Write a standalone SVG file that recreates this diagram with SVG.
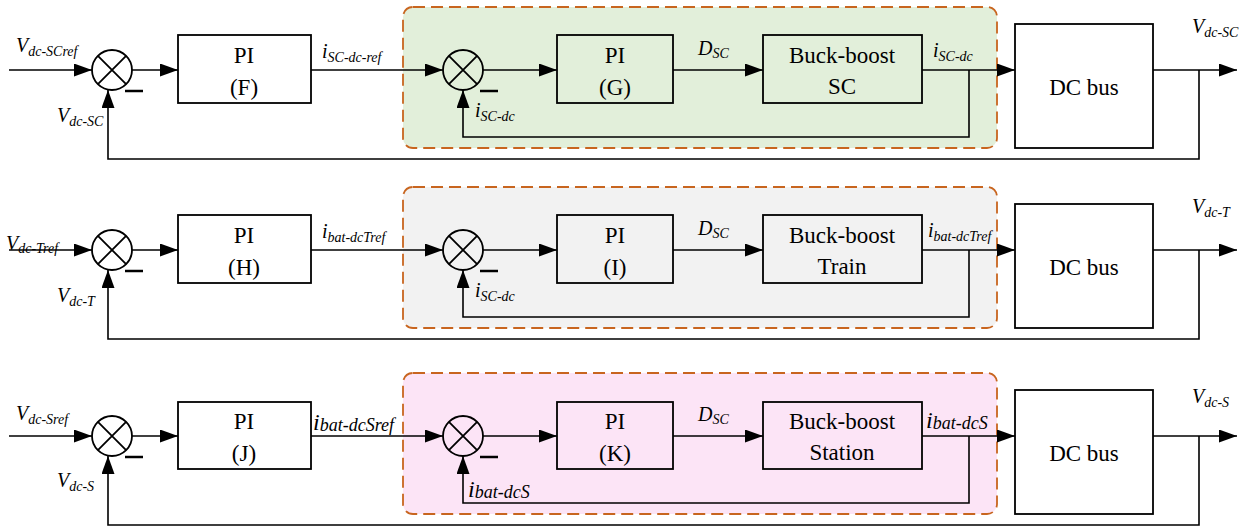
<svg xmlns="http://www.w3.org/2000/svg" width="1253" height="527" viewBox="0 0 1253 527" font-family="Liberation Serif, serif">
<style>
.box{fill:none;stroke:#000;stroke-width:1.8}
.wbox{fill:#fff;stroke:#000;stroke-width:1.8}
.sum{fill:none;stroke:#000;stroke-width:1.8}
.grp{stroke:#c8651f;stroke-width:1.8;stroke-dasharray:12 6}
.c{fill:none;stroke:#000;stroke-width:1.6}
.fb{fill:none;stroke:#000;stroke-width:1.6}
.minus{stroke:#000;stroke-width:2.5}
.t{font-size:23px;text-anchor:middle;fill:#000}
.l{font-style:italic;font-size:20px;fill:#000}
.s{font-size:14px}
.lb{font-size:24px}
.sb{font-size:18px}
</style>
<defs>
<marker id="ah" markerUnits="userSpaceOnUse" markerWidth="19" markerHeight="14" refX="18" refY="6.5" orient="auto">
<path d="M0,0 L18,6.5 L0,13 z" fill="#000"/>
</marker>
</defs>

<g id="group1"><rect x="403" y="7" width="594" height="141" rx="10" fill="#e2efda" class="grp"/></g>
<g id="group2"><rect x="403" y="187" width="594" height="141" rx="10" fill="#f2f2f2" class="grp"/></g>
<g id="group3"><rect x="403" y="373" width="594" height="141" rx="10" fill="#fce4f6" class="grp"/></g>

<g id="connectors">
<line class="c" x1="9" y1="70" x2="92" y2="70" marker-end="url(#ah)"/>
<line class="c" x1="132" y1="70" x2="178" y2="70" marker-end="url(#ah)"/>
<line class="c" x1="311" y1="70" x2="443" y2="70" marker-end="url(#ah)"/>
<line class="c" x1="483" y1="70" x2="557" y2="70" marker-end="url(#ah)"/>
<line class="c" x1="673" y1="70" x2="763" y2="70" marker-end="url(#ah)"/>
<line class="c" x1="922" y1="70" x2="1015" y2="70" marker-end="url(#ah)"/>
<line class="c" x1="1153" y1="70" x2="1237" y2="70" marker-end="url(#ah)"/>
<polyline class="fb" points="969,70 969,137 463,137 463,90" marker-end="url(#ah)"/>
<polyline class="fb" points="1199,70 1199,159 108,159 108,90" marker-end="url(#ah)"/>
<line class="c" x1="9" y1="250" x2="92" y2="250" marker-end="url(#ah)"/>
<line class="c" x1="132" y1="250" x2="178" y2="250" marker-end="url(#ah)"/>
<line class="c" x1="311" y1="250" x2="443" y2="250" marker-end="url(#ah)"/>
<line class="c" x1="483" y1="250" x2="557" y2="250" marker-end="url(#ah)"/>
<line class="c" x1="673" y1="250" x2="763" y2="250" marker-end="url(#ah)"/>
<line class="c" x1="922" y1="250" x2="1015" y2="250" marker-end="url(#ah)"/>
<line class="c" x1="1153" y1="250" x2="1237" y2="250" marker-end="url(#ah)"/>
<polyline class="fb" points="969,250 969,317 463,317 463,270" marker-end="url(#ah)"/>
<polyline class="fb" points="1199,250 1199,339 108,339 108,270" marker-end="url(#ah)"/>
<line class="c" x1="9" y1="436" x2="92" y2="436" marker-end="url(#ah)"/>
<line class="c" x1="132" y1="436" x2="178" y2="436" marker-end="url(#ah)"/>
<line class="c" x1="311" y1="436" x2="443" y2="436" marker-end="url(#ah)"/>
<line class="c" x1="483" y1="436" x2="557" y2="436" marker-end="url(#ah)"/>
<line class="c" x1="673" y1="436" x2="763" y2="436" marker-end="url(#ah)"/>
<line class="c" x1="922" y1="436" x2="1015" y2="436" marker-end="url(#ah)"/>
<line class="c" x1="1153" y1="436" x2="1237" y2="436" marker-end="url(#ah)"/>
<polyline class="fb" points="969,436 969,503 463,503 463,456" marker-end="url(#ah)"/>
<polyline class="fb" points="1199,436 1199,525 108,525 108,456" marker-end="url(#ah)"/>
</g>

<g id="sum1a"><circle class="sum" cx="112" cy="70" r="20" fill="#fff"/><path class="sum" d="M97.9,55.9 L126.1,84.1 M126.1,55.9 L97.9,84.1"/><line class="minus" x1="125" y1="91" x2="143" y2="91"/></g>
<g id="piF"><rect class="wbox" x="178" y="35" width="133" height="68"/><text class="t" x="244" y="63">PI</text><text class="t" x="244" y="95">(F)</text></g>
<g id="sum1b"><circle class="sum" cx="463" cy="70" r="20"/><path class="sum" d="M448.9,55.9 L477.1,84.1 M477.1,55.9 L448.9,84.1"/><line class="minus" x1="480" y1="91" x2="498" y2="91"/></g>
<g id="piG"><rect class="box" x="557" y="35" width="116" height="68"/><text class="t" x="615" y="63">PI</text><text class="t" x="615" y="95">(G)</text></g>
<g id="bbSC"><rect class="box" x="763" y="35" width="159" height="68"/><text class="t" x="842" y="63">Buck-boost</text><text class="t" x="842" y="94">SC</text></g>
<g id="dcbus1"><rect class="wbox" x="1015" y="24" width="138" height="124"/><text class="t" x="1084" y="95">DC bus</text></g>

<g id="sum2a"><circle class="sum" cx="112" cy="250" r="20" fill="#fff"/><path class="sum" d="M97.9,235.9 L126.1,264.1 M126.1,235.9 L97.9,264.1"/><line class="minus" x1="125" y1="271" x2="143" y2="271"/></g>
<g id="piH"><rect class="wbox" x="178" y="215" width="133" height="68"/><text class="t" x="244" y="243">PI</text><text class="t" x="244" y="275">(H)</text></g>
<g id="sum2b"><circle class="sum" cx="463" cy="250" r="20"/><path class="sum" d="M448.9,235.9 L477.1,264.1 M477.1,235.9 L448.9,264.1"/><line class="minus" x1="480" y1="271" x2="498" y2="271"/></g>
<g id="piI"><rect class="box" x="557" y="215" width="116" height="68"/><text class="t" x="615" y="243">PI</text><text class="t" x="615" y="275">(I)</text></g>
<g id="bbTrain"><rect class="box" x="763" y="215" width="159" height="68"/><text class="t" x="842" y="243">Buck-boost</text><text class="t" x="842" y="274">Train</text></g>
<g id="dcbus2"><rect class="wbox" x="1015" y="204" width="138" height="124"/><text class="t" x="1084" y="275">DC bus</text></g>

<g id="sum3a"><circle class="sum" cx="112" cy="436" r="20" fill="#fff"/><path class="sum" d="M97.9,421.9 L126.1,450.1 M126.1,421.9 L97.9,450.1"/><line class="minus" x1="125" y1="457" x2="143" y2="457"/></g>
<g id="piJ"><rect class="wbox" x="178" y="402" width="133" height="67"/><text class="t" x="244" y="429">PI</text><text class="t" x="244" y="461">(J)</text></g>
<g id="sum3b"><circle class="sum" cx="463" cy="436" r="20"/><path class="sum" d="M448.9,421.9 L477.1,450.1 M477.1,421.9 L448.9,450.1"/><line class="minus" x1="480" y1="457" x2="498" y2="457"/></g>
<g id="piK"><rect class="box" x="557" y="402" width="116" height="67"/><text class="t" x="615" y="429">PI</text><text class="t" x="615" y="461">(K)</text></g>
<g id="bbStation"><rect class="box" x="763" y="402" width="159" height="67"/><text class="t" x="842" y="429">Buck-boost</text><text class="t" x="842" y="460">Station</text></g>
<g id="dcbus3"><rect class="wbox" x="1015" y="390" width="138" height="124"/><text class="t" x="1084" y="461">DC bus</text></g>

<g id="labels">
<text class="l" x="16" y="52">V<tspan class="s" dy="4">dc-SCref</tspan></text>
<text class="l" x="57" y="122">V<tspan class="s" dy="4">dc-SC</tspan></text>
<text class="l" x="322" y="58">i<tspan class="s" dy="4">SC-dc-ref</tspan></text>
<text class="l" x="698" y="55">D<tspan class="s" dy="3">SC</tspan></text>
<text class="l" x="475" y="117">i<tspan class="s" dy="4">SC-dc</tspan></text>
<text class="l" x="933" y="57">i<tspan class="s" dy="4">SC-dc</tspan></text>
<text class="l" x="1192" y="33">V<tspan class="s" dy="4">dc-SC</tspan></text>

<text class="l" x="6" y="250">V<tspan class="s" dy="3">dc-Tref</tspan></text>
<text class="l" x="57" y="302">V<tspan class="s" dy="4">dc-T</tspan></text>
<text class="l" x="322" y="238">i<tspan class="s" dy="4">bat-dcTref</tspan></text>
<text class="l" x="698" y="235">D<tspan class="s" dy="3">SC</tspan></text>
<text class="l" x="475" y="297">i<tspan class="s" dy="4">SC-dc</tspan></text>
<text class="l" x="928" y="237">i<tspan class="s" dy="4">bat-dcTref</tspan></text>
<text class="l" x="1192" y="213">V<tspan class="s" dy="4">dc-T</tspan></text>

<text class="l" x="16" y="420">V<tspan class="s" dy="4">dc-Sref</tspan></text>
<text class="l" x="57" y="487">V<tspan class="s" dy="4">dc-S</tspan></text>
<text class="l lb" x="313" y="430">i<tspan class="sb" dy="1">bat-dcSref</tspan></text>
<text class="l" x="698" y="421">D<tspan class="s" dy="3">SC</tspan></text>
<text class="l lb" x="468" y="497">i<tspan class="sb" dy="1">bat-dcS</tspan></text>
<text class="l lb" x="926" y="428">i<tspan class="sb" dy="1">bat-dcS</tspan></text>
<text class="l" x="1192" y="403">V<tspan class="s" dy="4">dc-S</tspan></text>
</g>
</svg>
